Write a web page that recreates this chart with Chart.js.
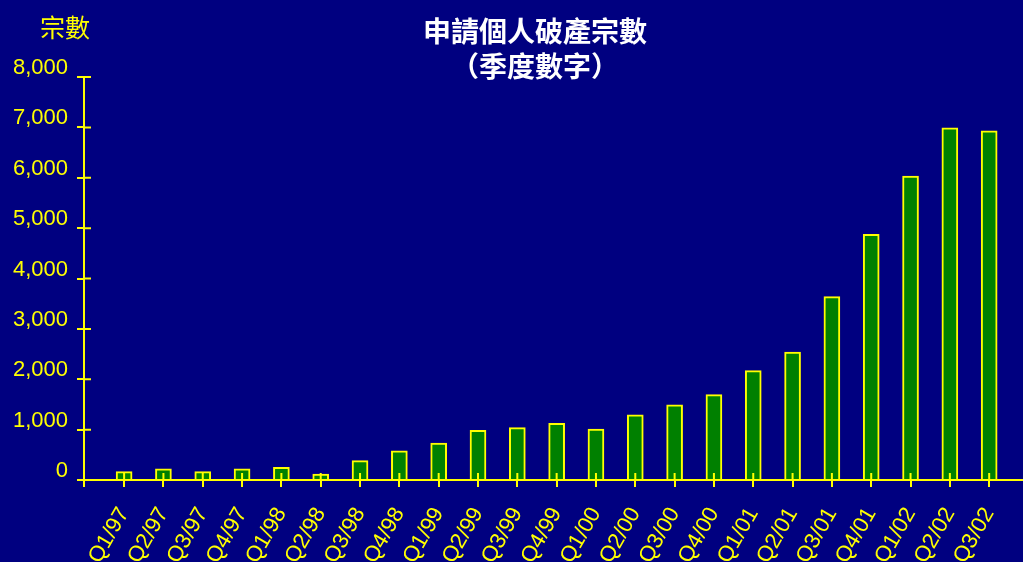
<!DOCTYPE html>
<html lang="zh-Hant">
<head>
    <meta charset="UTF-8">
    <title>申請個人破產宗數</title>
    <script src="https://cdn.jsdelivr.net/npm/chart.js"></script>
    <style>
        body { margin: 0; background: #000080; }
        #wrap { position: relative; width: 1023px; height: 562px; }
        #title {
            position: absolute; left: 385px; width: 300px; top: 13px;
            text-align: center; color: #fff; font: bold 28px/35px "Noto Sans CJK TC", sans-serif;
        }
        #ytitle {
            position: absolute; left: 40px; top: 11px;
            color: #ffff00; font: 25px/30px "Noto Sans CJK TC", sans-serif;
        }
    </style>
</head>
<body>
    <div id="wrap">
        <canvas id="myChart"></canvas>
        <div id="title">申請個人破產宗數<br>（季度數字）</div>
        <div id="ytitle">宗數</div>
    </div>
    <script>
        // 季度
        const quarters = ['Q1/97', 'Q2/97', 'Q3/97', 'Q4/97',
                          'Q1/98', 'Q2/98', 'Q3/98', 'Q4/98',
                          'Q1/99', 'Q2/99', 'Q3/99', 'Q4/99',
                          'Q1/00', 'Q2/00', 'Q3/00', 'Q4/00',
                          'Q1/01', 'Q2/01', 'Q3/01', 'Q4/01',
                          'Q1/02', 'Q2/02', 'Q3/02'];
        // 申請個人破產宗數
        const cases = [165, 220, 165, 220,
                       250, 120, 385, 580,
                       735, 985, 1040, 1125,
                       1010, 1295, 1490, 1695,
                       2170, 2540, 3640, 4875,
                       6035, 6990, 6930];
        const yTicks = [0, 1000, 2000, 3000, 4000, 5000, 6000, 7000, 8000];

        const yellow = '#ffff00';

        // tick marks that cross into the plot area
        const crossTicks = {
            id: 'crossTicks',
            afterDatasetsDraw(chart) {
                const { ctx, chartArea, scales: { x, y } } = chart;
                ctx.save();
                ctx.strokeStyle = yellow;
                ctx.lineWidth = 2;
                ctx.beginPath();
                y.ticks.forEach((t, i) => {
                    const py = y.getPixelForTick(i);
                    ctx.moveTo(chartArea.left, py);
                    ctx.lineTo(chartArea.left + 7, py);
                });
                x.ticks.forEach((t, i) => {
                    const px = x.getPixelForTick(i);
                    ctx.moveTo(px, chartArea.bottom);
                    ctx.lineTo(px, chartArea.bottom - 7);
                });
                ctx.moveTo(chartArea.left, chartArea.bottom);
                ctx.lineTo(chartArea.left, chartArea.bottom + 7);
                ctx.stroke();
                ctx.restore();
            }
        };

        const ctx = document.getElementById('myChart').getContext('2d');
        new Chart(ctx, {
            type: 'bar',
            data: {
                datasets: [{
                    data: cases.map((v, i) => ({ x: i, y: v })),
                    backgroundColor: '#008000',
                    borderColor: yellow,
                    borderWidth: 2,
                    barThickness: 16
                }]
            },
            options: {
                responsive: true,
                maintainAspectRatio: false,
                animation: false,
                layout: { padding: { top: 77, left: 0, right: 0, bottom: 0 } },
                plugins: {
                    legend: { display: false },
                    tooltip: { enabled: false }
                },
                scales: {
                    x: {
                        type: 'linear',
                        offset: false,
                        min: -1.02,
                        max: 22.86,
                        afterBuildTicks: scale => {
                            scale.ticks = quarters.map((q, i) => ({ value: i }));
                        },
                        afterFit: scale => {
                            scale.height = 82;
                            scale.paddingLeft = 0;
                            scale.paddingRight = 0;
                        },
                        grid: { offset: false, drawOnChartArea: false, color: yellow, lineWidth: 2, tickLength: 7 },
                        border: { color: yellow, width: 2 },
                        ticks: {
                            autoSkip: false,
                            minRotation: 60,
                            maxRotation: 60,
                            color: yellow,
                            padding: 16,
                            font: { family: '"Liberation Sans", Arial, sans-serif', size: 22 },
                            callback: value => quarters[value]
                        }
                    },
                    y: {
                        min: 0,
                        max: 8000,
                        afterBuildTicks: scale => {
                            scale.ticks = yTicks.map(v => ({ value: v }));
                        },
                        afterFit: scale => { scale.width = 84; },
                        grid: { drawOnChartArea: false, color: yellow, lineWidth: 2, tickLength: 7 },
                        border: { color: yellow, width: 2 },
                        ticks: {
                            color: yellow,
                            padding: 9,
                            labelOffset: -9,
                            font: { family: '"Liberation Sans", Arial, sans-serif', size: 22 },
                            callback: value => value.toLocaleString('en-US')
                        }
                    }
                }
            },
            plugins: [crossTicks]
        });
    </script>
</body>
</html>
